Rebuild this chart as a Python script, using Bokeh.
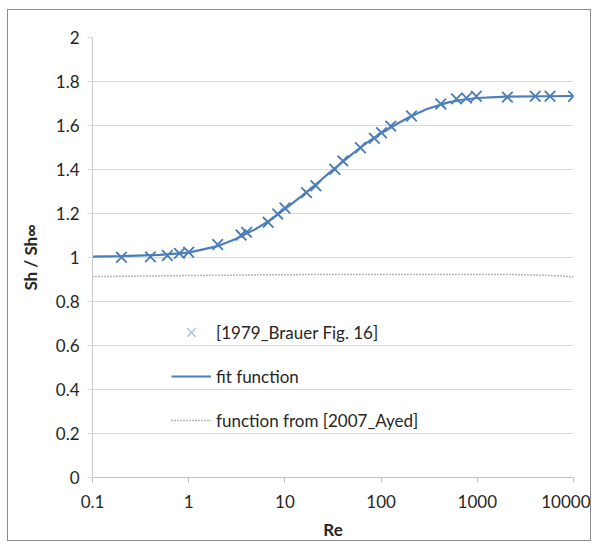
from bokeh.plotting import figure
from bokeh.models import FixedTicker, Legend, LegendItem
from bokeh.embed import file_html
from bokeh.resources import INLINE

# ---- data ----
re_brauer = [0.2, 0.4, 0.6, 0.8, 1, 2, 3.5, 4, 6.7, 8.4, 10, 16.8, 21, 33, 40, 61, 85, 101, 126,
             207, 417, 607, 771, 977, 2055, 4000, 5700, 10000]
sh_brauer = [1.001, 1.003, 1.009, 1.019, 1.024, 1.059, 1.102, 1.114, 1.160, 1.198, 1.225, 1.295,
             1.326, 1.401, 1.439, 1.499, 1.542, 1.567, 1.597, 1.643, 1.698, 1.721, 1.725, 1.733,
             1.729, 1.733, 1.733, 1.733]

re_fit = [0.1, 0.2, 0.5, 1, 2, 3, 5, 7, 10, 15, 20, 30, 50, 70, 100, 150, 200, 300, 500, 700,
          1000, 2000, 5000, 10000]
sh_fit = [1.004, 1.006, 1.012, 1.022, 1.052, 1.082, 1.13, 1.17, 1.22, 1.28, 1.325, 1.39, 1.47,
          1.52, 1.565, 1.61, 1.64, 1.675, 1.705, 1.717, 1.725, 1.731, 1.733, 1.734]

re_ayed = [0.1, 1, 10, 100, 1000, 3000, 6000, 10000]
sh_ayed = [0.913, 0.918, 0.922, 0.923, 0.923, 0.922, 0.918, 0.912]

x_ticks = [0.1, 1, 10, 100, 1000, 10000]
x_tick_labels = ["0.1", "1", "10", "100", "1000", "10000"]
y_ticks = [0, 0.2, 0.4, 0.6, 0.8, 1, 1.2, 1.4, 1.6, 1.8, 2]
y_tick_labels = ["0", "0.2", "0.4", "0.6", "0.8", "1", "1.2", "1.4", "1.6", "1.8", "2"]

FONT = "Lato"
BLUE = "#4a7ebb"

p = figure(width=584, height=532, x_axis_type="log", x_range=(0.1, 10000), y_range=(0, 2),
           output_backend="svg", toolbar_location=None,
           min_border_left=84, min_border_right=19, min_border_top=27, min_border_bottom=63)
p.margin = (9, 0, 0, 7)
p.styles = {"border": "1px solid #8c8c8c"}
p.outline_line_color = None
p.background_fill_color = "white"
p.border_fill_color = "white"

# axes
p.xaxis.ticker = FixedTicker(ticks=x_ticks, minor_ticks=[])
p.xaxis.major_label_overrides = {t: l for t, l in zip(x_ticks, x_tick_labels)}
p.yaxis.ticker = FixedTicker(ticks=y_ticks, minor_ticks=[])
p.yaxis.major_label_overrides = {t: l for t, l in zip(y_ticks, y_tick_labels)}

for ax in (p.xaxis, p.yaxis):
    ax.major_label_text_font = FONT
    ax.major_label_text_font_size = "17px"
    ax.major_label_text_color = "#262626"
    ax.axis_label_text_font = FONT
    ax.axis_label_text_font_size = "17px"
    ax.axis_label_text_font_style = "bold"
    ax.axis_label_text_color = "#262626"
    ax.minor_tick_line_color = None
    ax.major_tick_in = 0
    ax.major_tick_out = 5

p.xaxis.axis_label = "Re"
p.yaxis.axis_label = "Sh / Sh\u221e"
p.xaxis.axis_line_color = "#bfbfbf"
p.xaxis.major_tick_line_color = "#bfbfbf"
p.yaxis.axis_line_color = "#c8c8c8"
p.yaxis.major_tick_line_color = "#d9d9d9"
p.xaxis.major_label_standoff = 12
p.yaxis.major_label_standoff = 8
p.xaxis.axis_label_standoff = 8
p.yaxis.axis_label_standoff = 12

p.xgrid.grid_line_color = None
p.ygrid.grid_line_color = "#d9d9d9"
p.ygrid.grid_line_width = 1

# series
r_ayed = p.line(re_ayed, sh_ayed, line_color="#6f6f6f", line_width=1.5, line_dash="1 2")
r_fit = p.line(re_fit, sh_fit, line_color=BLUE, line_width=2.2)
# lighter cross used for the legend entry (hidden beneath the data crosses)
r_leg = p.scatter(re_brauer, sh_brauer, marker="x", size=13, line_color="#9fbbe0", line_width=1.2)
r_pts = p.scatter(re_brauer, sh_brauer, marker="x", size=15, line_color=BLUE, line_width=1.8)

legend = Legend(items=[
    LegendItem(label="[1979_Brauer Fig. 16]", renderers=[r_leg]),
    LegendItem(label="fit function", renderers=[r_fit]),
    LegendItem(label="function from [2007_Ayed]", renderers=[r_ayed]),
], location=(79, 42))
legend.border_line_color = None
legend.background_fill_alpha = 0
legend.padding = 0
legend.margin = 0
legend.spacing = 14
legend.glyph_width = 40
legend.glyph_height = 30
legend.label_standoff = 5
legend.label_text_font = FONT
legend.label_text_font_size = "17px"
legend.label_text_color = "#262626"
legend.label_height = 30
p.add_layout(legend)

open("out.html", "w").write(file_html(p, INLINE))
